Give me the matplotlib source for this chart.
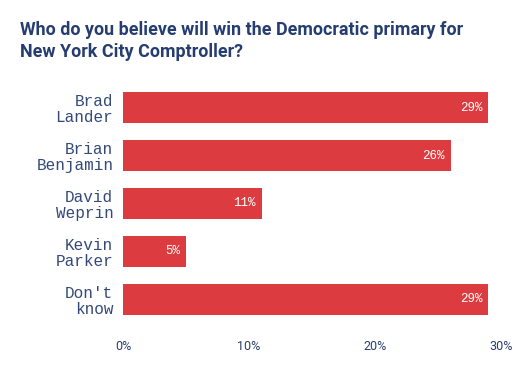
import matplotlib.pyplot as plt

categories = ["Brad\nLander", "Brian\nBenjamin", "David\nWeprin", "Kevin\nParker", "Don't\nknow"]
values = [29, 26, 11, 5, 29]
xticks = [0, 10, 20, 30]
xtick_labels = ["0%", "10%", "20%", "30%"]

BAR = "#dc3b3f"
NAVY = "#253d70"

fig = plt.figure(figsize=(5.2, 3.71), dpi=100)
ax = fig.add_axes([123 / 520, 1 - 323 / 371, 378 / 520, 239 / 371])

y = list(range(len(categories)))
ax.barh(y, values, height=0.65, color=BAR)
for yi, v in zip(y, values):
    ax.annotate(f"{v}%", (v, yi), xytext=(-4, 0), textcoords="offset points",
                ha="right", va="center", color="white", fontsize=9,
                family="Liberation Mono")

ax.set_xlim(0, 30)
ax.set_ylim(4.49, -0.49)
ax.set_yticks(y)
ax.set_yticklabels(categories, family="Liberation Mono", fontsize=11.5,
                   color="#34497a", linespacing=1.05)
ax.set_xticks(xticks)
ax.set_xticklabels(xtick_labels, family="Roboto", fontsize=9, color=NAVY)
ax.tick_params(axis="y", length=0, pad=7)
ax.tick_params(axis="x", length=0, pad=12)
for s in ax.spines.values():
    s.set_visible(False)

fig.text(20 / 520, 1 - 21 / 371, "Who do you believe will win the Democratic primary for\nNew York City Comptroller?",
         family="Roboto", fontweight="bold", fontsize=12.9, color=NAVY,
         ha="left", va="top", linespacing=1.3)

fig.savefig("out.png", dpi=100, facecolor="white")
